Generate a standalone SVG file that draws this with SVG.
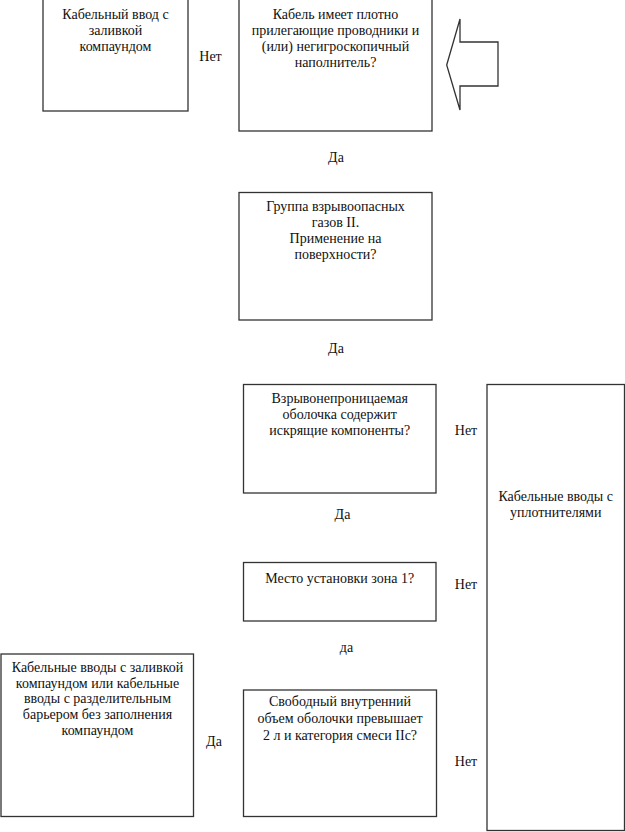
<svg xmlns="http://www.w3.org/2000/svg" width="625" height="832" viewBox="0 0 625 832">
<style>
.box{fill:#fff;stroke:#333;stroke-width:1.3}
text{font-family:"Liberation Serif","Times New Roman",serif;font-size:14px;fill:#111}
.c{text-anchor:middle}
</style>
<rect width="625" height="832" fill="#fff"/>
<g id="connectors">
<path class="box" d="M446.7,65 L460,19 L460,42 L498,42 L498,86 L460,86 L460,110 Z"/>
<text x="210.5" y="61" class="c">Нет</text>
<text x="336" y="162" class="c">Да</text>
<text x="336" y="353" class="c">Да</text>
<text x="466" y="435" class="c">Нет</text>
<text x="342.5" y="519" class="c">Да</text>
<text x="466" y="589" class="c">Нет</text>
<text x="346.5" y="652" class="c">да</text>
<text x="214" y="746" class="c">Да</text>
<text x="466" y="766" class="c">Нет</text>
</g>
<g id="n1">
<rect class="box" x="43" y="-1" width="145" height="112"/>
<text class="c" x="115.5" y="19">Кабельный ввод с</text>
<text class="c" x="115.5" y="35">заливкой</text>
<text class="c" x="115.5" y="51">компаундом</text>
</g>
<g id="n2">
<rect class="box" x="239" y="-1" width="193" height="132"/>
<text class="c" x="335.5" y="19">Кабель имеет плотно</text>
<text class="c" x="335.5" y="35">прилегающие проводники и</text>
<text class="c" x="335.5" y="51">(или) негигроскопичный</text>
<text class="c" x="335.5" y="67">наполнитель?</text>
</g>
<g id="n3">
<rect class="box" x="239" y="192.5" width="193" height="127.5"/>
<text class="c" x="335.5" y="211">Группа взрывоопасных</text>
<text class="c" x="335.5" y="227">газов II.</text>
<text class="c" x="335.5" y="243">Применение на</text>
<text class="c" x="335.5" y="259">поверхности?</text>
</g>
<g id="n4">
<rect class="box" x="243.5" y="384.5" width="192.5" height="108.5"/>
<text class="c" x="339.7" y="403">Взрывонепроницаемая</text>
<text class="c" x="339.7" y="419">оболочка содержит</text>
<text class="c" x="339.7" y="435">искрящие компоненты?</text>
</g>
<g id="n5">
<rect class="box" x="243.5" y="562.5" width="192.5" height="58.5"/>
<text class="c" x="339.7" y="583">Место установки зона 1?</text>
</g>
<g id="n6">
<rect class="box" x="487" y="384.5" width="137.5" height="446"/>
<text class="c" x="555.7" y="501">Кабельные вводы с</text>
<text class="c" x="555.7" y="517">уплотнителями</text>
</g>
<g id="n7">
<rect class="box" x="243.5" y="690" width="193" height="126.5"/>
<text class="c" x="340" y="706">Свободный внутренний</text>
<text class="c" x="340" y="723">объем оболочки превышает</text>
<text class="c" x="340" y="740">2 л и категория смеси IIc?</text>
</g>
<g id="n8">
<rect class="box" x="1" y="654" width="192.5" height="162.5"/>
<text class="c" x="97.5" y="672">Кабельные вводы с заливкой</text>
<text class="c" x="97.5" y="687.5">компаундом или кабельные</text>
<text class="c" x="97.5" y="703">вводы с разделительным</text>
<text class="c" x="97.5" y="719">барьером без заполнения</text>
<text class="c" x="97.5" y="735">компаундом</text>
</g>
</svg>
